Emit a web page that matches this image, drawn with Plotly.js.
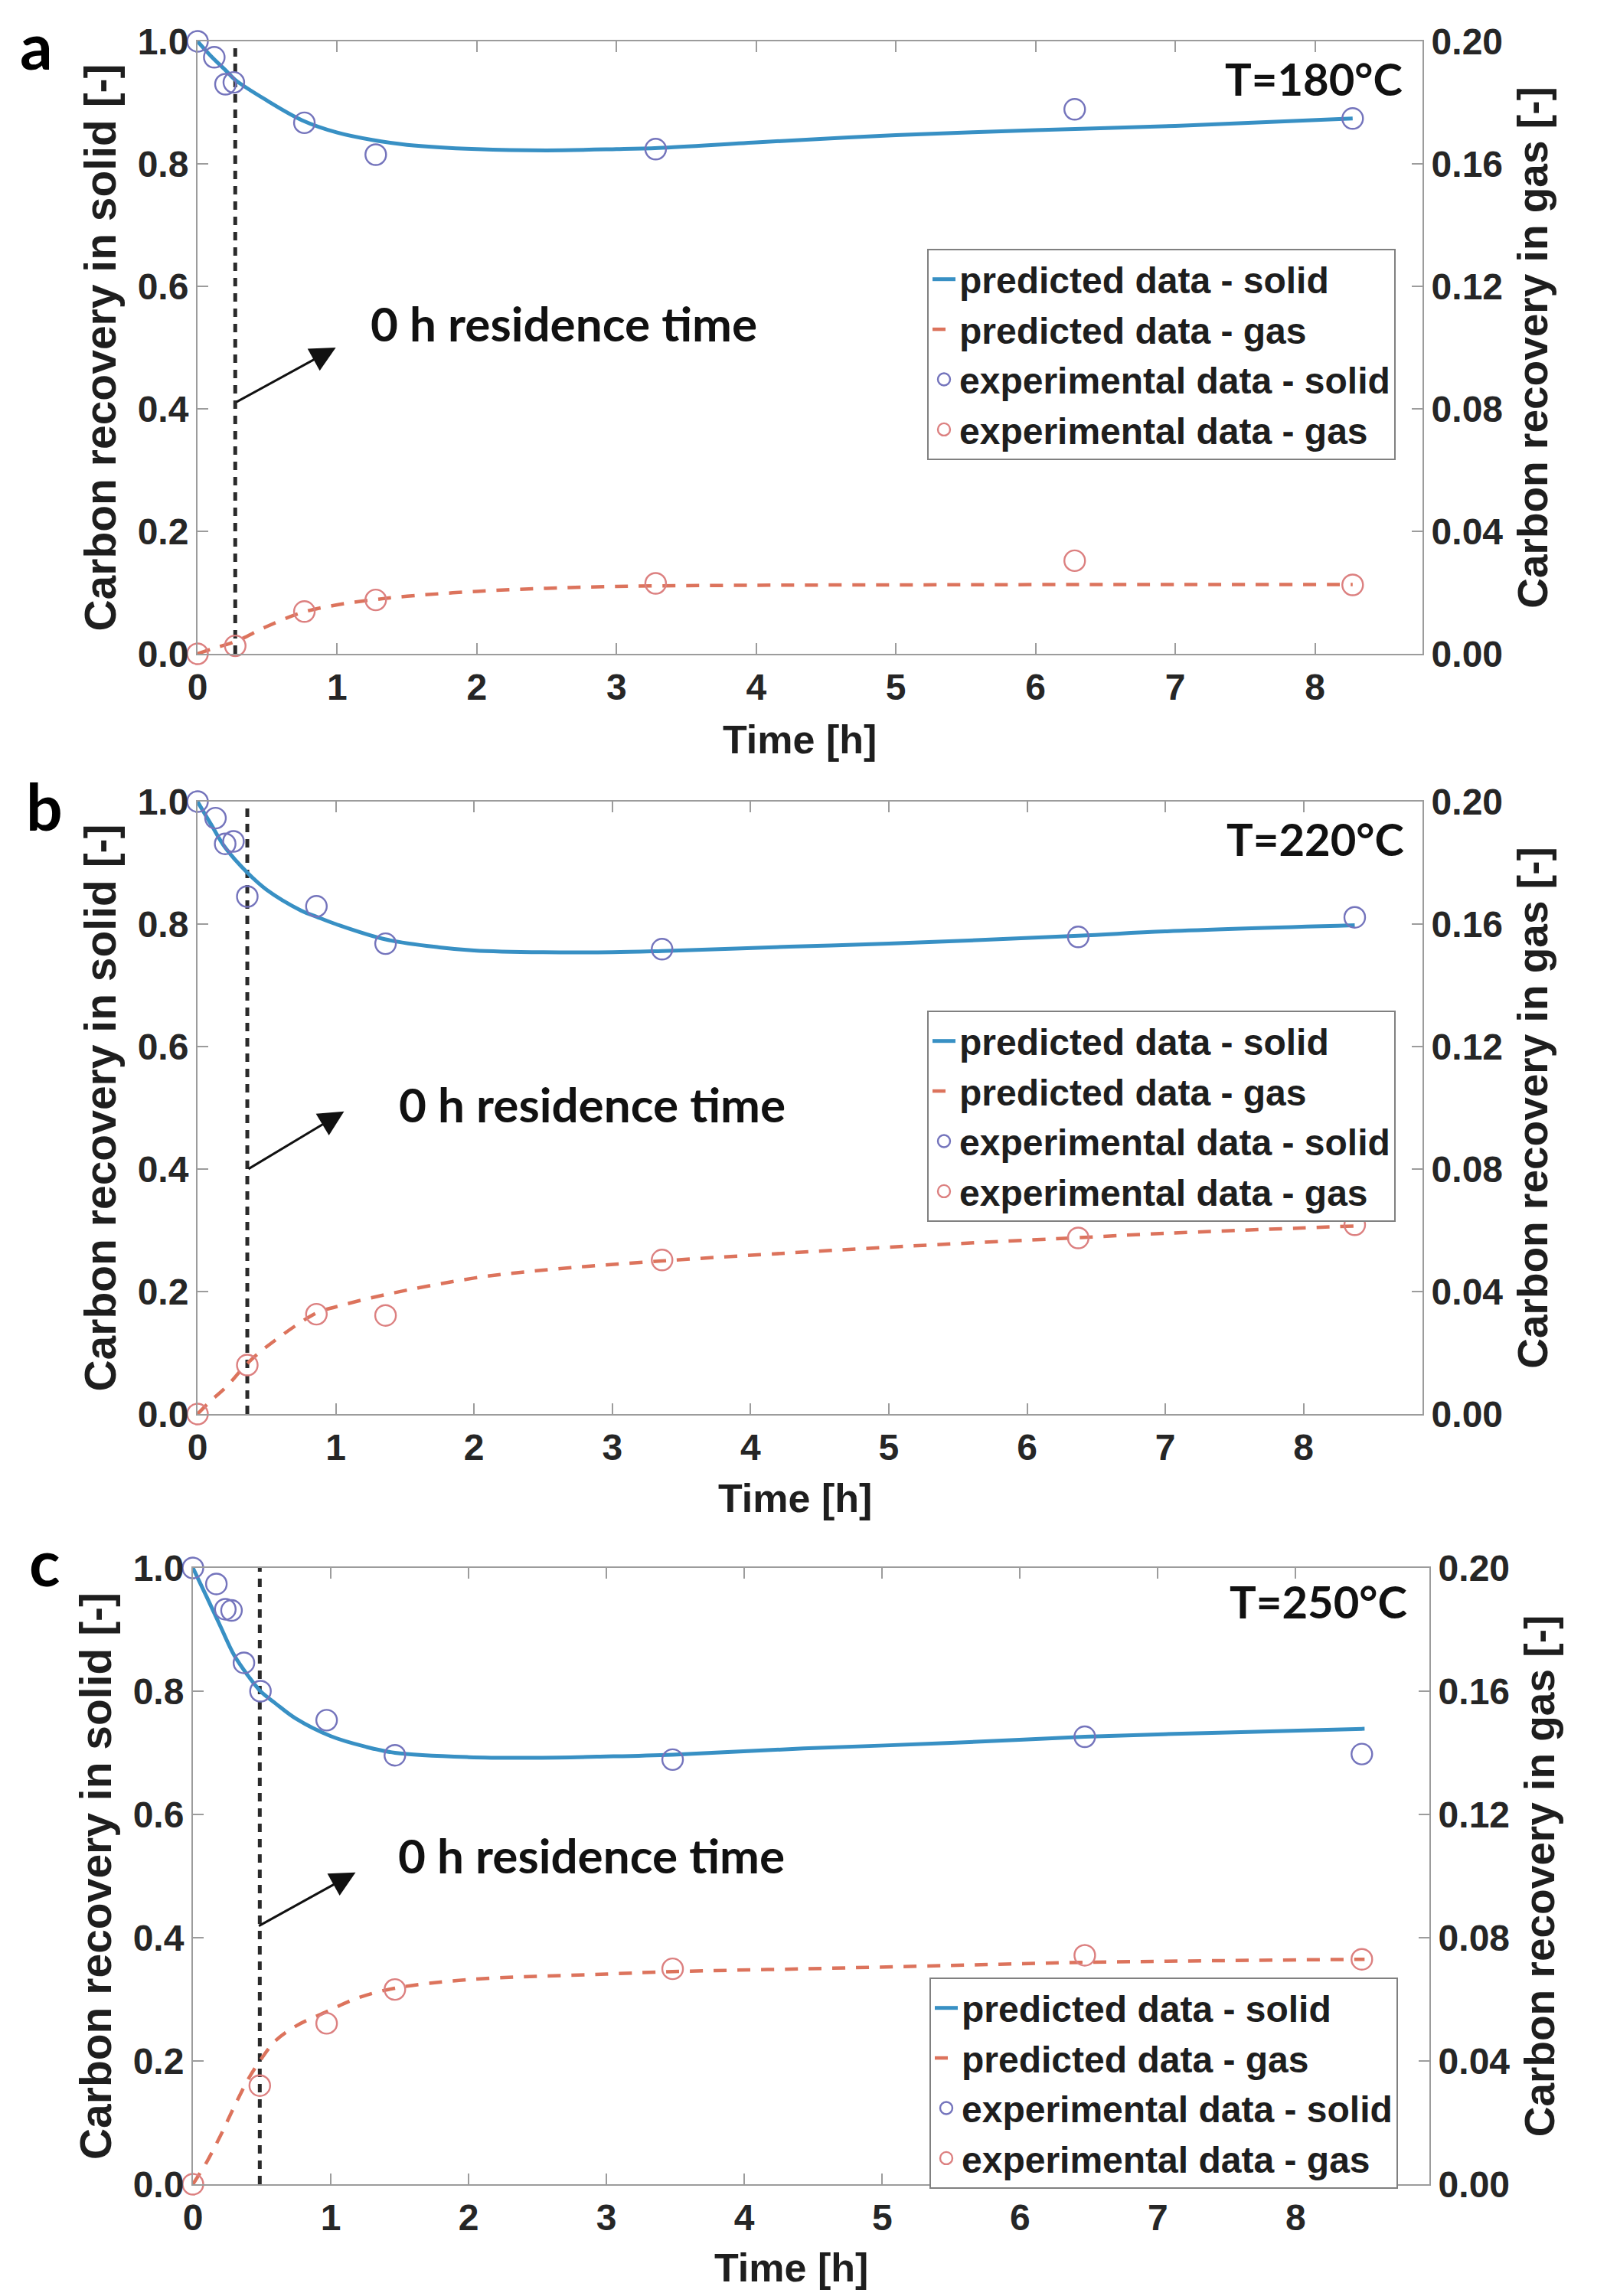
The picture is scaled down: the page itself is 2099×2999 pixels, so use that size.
<!DOCTYPE html>
<html><head><meta charset="utf-8">
<script src="https://cdn.plot.ly/plotly-3.0.1.min.js"></script>
<style>html,body{margin:0;padding:0;background:#fff}</style>
</head><body><div id="chart" style="width:2099px;height:2999px"></div>
<script>
// ---------- data ----------
const panelLabels = ['a', 'b', 'c'];
const tempLabels = ['T=180°C', 'T=220°C', 'T=250°C'];
const seriesNames = ['predicted data - solid', 'predicted data - gas', 'experimental data - solid', 'experimental data - gas'];
const residenceTime = [0.27, 0.36, 0.485];   // "0 h residence time" marker (h)
const xTickVals = [0, 1, 2, 3, 4, 5, 6, 7, 8];
const solidTickVals = [0, 0.2, 0.4, 0.6, 0.8, 1.0];
const gasTickVals = [0, 0.04, 0.08, 0.12, 0.16, 0.20];

// Panel a (180 °C)
const predTimeA  = [0, 0.1, 0.2, 0.27, 0.5, 0.75, 1.0, 1.25, 1.5, 2.0, 2.5, 3.0, 3.3, 4.0, 5.0, 6.0, 7.0, 8.27];
const predSolidA = [1.0, 0.975, 0.953, 0.937, 0.903, 0.871, 0.851, 0.839, 0.831, 0.824, 0.822, 0.824, 0.826, 0.835, 0.847, 0.855, 0.862, 0.874];
const predGasTimeA = [0, 0.1, 0.27, 0.5, 0.75, 1.0, 1.25, 1.5, 2.0, 2.5, 3.0, 4.0, 5.0, 6.0, 7.0, 8.27];
const predGasA   = [0, 0.0016, 0.0040, 0.0090, 0.0135, 0.0160, 0.0176, 0.0188, 0.0204, 0.0214, 0.0220, 0.0224, 0.0225, 0.0226, 0.0226, 0.0226];
const expSolidTimeA = [0, 0.12, 0.20, 0.26, 0.765, 1.276, 3.28, 6.28, 8.27];
const expSolidA  = [1.0, 0.974, 0.930, 0.933, 0.867, 0.815, 0.824, 0.889, 0.874];
const expGasTimeA = [0, 0.27, 0.765, 1.276, 3.28, 6.28, 8.27];
const expGasA    = [0, 0.0026, 0.0138, 0.0176, 0.0230, 0.0304, 0.0225];

// Panel b (220 °C)
const predTimeB  = [0, 0.1, 0.2, 0.36, 0.5, 0.75, 0.86, 1.0, 1.36, 1.75, 2.0, 2.5, 3.0, 3.36, 4.28, 5.0, 6.37, 7.0, 8.37];
const predSolidB = [1.0, 0.962, 0.925, 0.884, 0.856, 0.822, 0.812, 0.800, 0.775, 0.762, 0.757, 0.754, 0.754, 0.756, 0.763, 0.768, 0.781, 0.788, 0.798];
const predGasTimeB = [0, 0.1, 0.2, 0.36, 0.5, 0.86, 1.0, 1.36, 2.0, 2.5, 3.36, 4.28, 5.0, 6.37, 7.0, 8.37];
const predGasB   = [0, 0.0045, 0.0085, 0.0165, 0.0220, 0.0330, 0.0350, 0.0390, 0.0444, 0.0470, 0.0500, 0.0526, 0.0545, 0.0576, 0.0590, 0.0614];
const expSolidTimeB = [0, 0.13, 0.20, 0.26, 0.36, 0.86, 1.36, 3.36, 6.37, 8.37];
const expSolidB  = [1.0, 0.973, 0.931, 0.935, 0.845, 0.829, 0.768, 0.759, 0.779, 0.811];
const expGasTimeB = [0, 0.36, 0.86, 1.36, 3.36, 6.37, 8.37];
const expGasB    = [0, 0.0160, 0.0326, 0.0322, 0.0503, 0.0575, 0.0618];

// Panel c (250 °C)
const predTimeC  = [0, 0.1, 0.2, 0.3, 0.4, 0.49, 0.6, 0.75, 1.0, 1.25, 1.465, 2.0, 2.5, 3.0, 3.48, 4.43, 5.5, 6.47, 7.5, 8.5];
const predSolidC = [1.0, 0.953, 0.905, 0.858, 0.825, 0.800, 0.780, 0.755, 0.727, 0.710, 0.700, 0.693, 0.692, 0.694, 0.697, 0.707, 0.716, 0.726, 0.733, 0.739];
const predGasTimeC = [0, 0.1, 0.2, 0.3, 0.4, 0.485, 0.6, 0.75, 0.97, 1.2, 1.465, 2.0, 3.0, 3.48, 4.43, 5.5, 6.47, 8.5];
const predGasC   = [0, 0.0072, 0.0158, 0.0252, 0.0340, 0.0400, 0.0466, 0.0514, 0.0560, 0.0605, 0.0636, 0.0664, 0.0682, 0.0690, 0.0699, 0.0710, 0.0720, 0.0730];
const expSolidTimeC = [0, 0.17, 0.235, 0.28, 0.37, 0.49, 0.97, 1.465, 3.48, 6.47, 8.48];
const expSolidC  = [1.0, 0.974, 0.933, 0.931, 0.846, 0.800, 0.753, 0.696, 0.689, 0.726, 0.698];
const expGasTimeC = [0, 0.485, 0.97, 1.465, 3.48, 6.47, 8.48];
const expGasC    = [0, 0.0320, 0.0522, 0.0632, 0.0699, 0.0743, 0.0730];

// ---------- styling / layout helpers ----------
const W = 2099, H = 2999;
const colSolidLine = '#3890c4';
const colGasLine = '#dc735c';
const colSolidMk = '#7474bc';
const colGasMk = '#dc8080';
const axisCol = '#9c9c9c';
const txtCol = '#1e1e1e';
const FONT = 'Liberation Sans, Arial, sans-serif';
const FONT2 = 'Lato, Open Sans, sans-serif';

// pixel boxes of each panel: [left, right, top, bottom]
const boxes = [[258, 1858, 54, 854], [258, 1858, 1047, 1847], [252, 1867, 2048, 2853]];
const xMax = [8.77, 8.86, 8.97];
const panels = [
  {pt: predTimeA, ps: predSolidA, gt: predGasTimeA, pg: predGasA, est: expSolidTimeA, es: expSolidA, egt: expGasTimeA, eg: expGasA},
  {pt: predTimeB, ps: predSolidB, gt: predGasTimeB, pg: predGasB, est: expSolidTimeB, es: expSolidB, egt: expGasTimeB, eg: expGasB},
  {pt: predTimeC, ps: predSolidC, gt: predGasTimeC, pg: predGasC, est: expSolidTimeC, es: expSolidC, egt: expGasTimeC, eg: expGasC}
];
// annotation anchors (data units unless noted)
const textPos = [[1.23, 0.54], [1.445, 0.506], [1.48, 0.534]];
const arrowHead = [[0.99, 0.50], [1.06, 0.494], [1.18, 0.506]];
const arrowTail = [[0.27, 0.41], [0.36, 0.399], [0.47, 0.418]];
const tempPos = [[8.64, 0.94], [8.74, 0.939], [8.82, 0.946]];
const timeTitleX = [4.31, 4.32, 4.34];          // data x
const timeTitleYpx = [966, 1957, 2962];         // pixel y of title centre
const legendPos = [[1211, 325], [1211, 1320], [1214, 2583]];
const panelLabelPos = [[24, 58], [32, 1052], [36, 2040]];

const traces = [];
const layout = {
  width: W, height: H,
  margin: {l: 0, r: 0, t: 0, b: 0},
  paper_bgcolor: '#fff', plot_bgcolor: '#fff',
  showlegend: true,
  annotations: [], shapes: []
};

const tickFont = {family: FONT, size: 48, color: '#262626', weight: 'bold'};
const titleFontL = {family: FONT, size: 57, color: txtCol, weight: 'bold'};
const titleFontR = {family: FONT, size: 55, color: txtCol, weight: 'bold'};

panels.forEach((p, i) => {
  const [L, R, T, B] = boxes[i];
  const xs = i === 0 ? '' : String(i + 1);
  const yl = String(2 * i + 1), yr = String(2 * i + 2);
  const xRef = 'x' + xs;
  const yLRef = 'y' + (yl === '1' ? '' : yl);
  const yRRef = 'y' + yr;
  const xKey = 'xaxis' + xs;
  const yLKey = 'yaxis' + (yl === '1' ? '' : yl);
  const yRKey = 'yaxis' + yr;
  const legKey = i === 0 ? 'legend' : 'legend' + (i + 1);

  layout[xKey] = {
    domain: [L / W, R / W], anchor: yLRef, range: [0, xMax[i]],
    showline: true, linecolor: axisCol, linewidth: 2, mirror: 'ticks',
    ticks: 'inside', ticklen: 14, tickwidth: 2, tickcolor: axisCol,
    tickvals: xTickVals, ticktext: xTickVals.map(String),
    tickfont: tickFont, showgrid: false, zeroline: false,
    ticklabelstandoff: 0, automargin: false
  };
  layout[yLKey] = {
    domain: [1 - B / H, 1 - T / H], anchor: xRef, range: [0, 1],
    showline: true, linecolor: axisCol, linewidth: 2,
    ticks: 'inside', ticklen: 14, tickwidth: 2, tickcolor: axisCol,
    tickvals: solidTickVals, ticktext: solidTickVals.map(v => v.toFixed(1)),
    tickfont: tickFont, showgrid: false, zeroline: false, automargin: false,
    title: {text: 'Carbon recovery in solid [-]', font: titleFontL, standoff: 10}
  };
  layout[yRKey] = {
    overlaying: yLRef, side: 'right', anchor: xRef, range: [0, 0.2],
    showline: true, linecolor: axisCol, linewidth: 2,
    ticks: 'inside', ticklen: 14, tickwidth: 2, tickcolor: axisCol,
    tickvals: gasTickVals, ticktext: gasTickVals.map(v => v.toFixed(2)),
    tickfont: tickFont, showgrid: false, zeroline: false, automargin: false,
    title: {text: 'Carbon recovery in gas [-]', font: titleFontR, standoff: 20}
  };
  layout[legKey] = {
    x: legendPos[i][0] / W, y: 1 - legendPos[i][1] / H, xanchor: 'left', yanchor: 'top',
    bgcolor: '#fff', bordercolor: '#808080', borderwidth: 2,
    font: {family: FONT, size: 48, color: txtCol, weight: 'bold'},
    tracegroupgap: 0, itemwidth: 30, traceorder: 'normal'
  };

  // vertical "0 h residence time" line
  traces.push({x: [residenceTime[i], residenceTime[i]], y: [0, 1], xaxis: xRef, yaxis: yLRef,
    mode: 'lines', line: {color: '#2a2a2a', width: 5, dash: '11px,9px'}, showlegend: false, hoverinfo: 'skip'});

  traces.push({x: p.pt, y: p.ps, xaxis: xRef, yaxis: yLRef, name: seriesNames[0], legend: legKey,
    mode: 'lines', line: {color: colSolidLine, width: 5, shape: 'spline'}});
  traces.push({x: p.gt, y: p.pg, xaxis: xRef, yaxis: yRRef, name: seriesNames[1], legend: legKey,
    mode: 'lines', line: {color: colGasLine, width: 4.5, dash: '17px,14px', shape: 'spline'}});
  traces.push({x: p.est, y: p.es, xaxis: xRef, yaxis: yLRef, name: seriesNames[2], legend: legKey,
    mode: 'markers', marker: {symbol: 'circle-open', size: 27, color: colSolidMk, line: {width: 2.4}}, cliponaxis: false});
  traces.push({x: p.egt, y: p.eg, xaxis: xRef, yaxis: yRRef, name: seriesNames[3], legend: legKey,
    mode: 'markers', marker: {symbol: 'circle-open', size: 27, color: colGasMk, line: {width: 2.4}}, cliponaxis: false});

  // arrow
  layout.annotations.push({xref: xRef, yref: yLRef, axref: xRef, ayref: yLRef,
    x: arrowHead[i][0], y: arrowHead[i][1], ax: arrowTail[i][0], ay: arrowTail[i][1],
    text: '', showarrow: true, arrowhead: 2, arrowsize: 2.2, arrowwidth: 3, arrowcolor: '#111'});
  // arrow label
  layout.annotations.push({xref: xRef, yref: yLRef, x: textPos[i][0], y: textPos[i][1],
    xanchor: 'left', yanchor: 'middle', showarrow: false, text: '0 h residence time',
    font: {family: FONT2, size: 62, color: '#111', weight: 'bold'}});
  // temperature label
  layout.annotations.push({xref: xRef, yref: yLRef, x: tempPos[i][0], y: tempPos[i][1],
    xanchor: 'right', yanchor: 'middle', showarrow: false, text: tempLabels[i],
    font: {family: FONT2, size: 58, color: '#111', weight: 'bold'}});
  // x axis title (just under the tick labels)
  layout.annotations.push({xref: xRef, yref: 'paper', x: timeTitleX[i], y: 1 - timeTitleYpx[i] / H,
    xanchor: 'center', yanchor: 'middle', showarrow: false, text: 'Time [h]',
    font: {family: FONT, size: 52, color: txtCol, weight: 'bold'}});
  // panel letter
  layout.annotations.push({xref: 'paper', yref: 'paper', x: panelLabelPos[i][0] / W, y: 1 - panelLabelPos[i][1] / H,
    xanchor: 'left', yanchor: 'middle', showarrow: false, text: panelLabels[i],
    font: {family: FONT2, size: 84, color: '#000', weight: 'bold'}});
});

Plotly.newPlot('chart', traces, layout, {staticPlot: true, displayModeBar: false});
</script></body></html>
